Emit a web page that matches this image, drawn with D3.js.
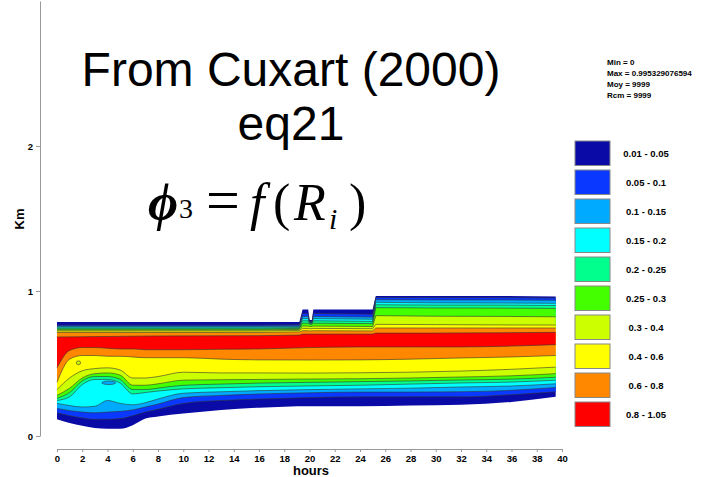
<!DOCTYPE html>
<html>
<head>
<meta charset="utf-8">
<script src="https://cdn.jsdelivr.net/npm/d3@7"></script>
<style>
  body { margin: 0; background: #fff; }
  svg { display: block; }
  text { font-family: "Liberation Sans", Arial, sans-serif; }
</style>
</head>
<body>
<svg id="chart"></svg>
<script>
// legend classes (value ranges) and their colours
const classLabels = ["0.01 - 0.05", "0.05 - 0.1", "0.1 - 0.15", "0.15 - 0.2", "0.2 - 0.25",
                     "0.25 - 0.3", "0.3 - 0.4", "0.4 - 0.6", "0.6 - 0.8", "0.8 - 1.05"];
const classColors = ["#0a0aa6", "#0a38ff", "#00aaff", "#00ffff", "#00ff8c",
                     "#44ff00", "#ccff00", "#ffff00", "#ff8800", "#ff0000"];

const statLines = ["Min = 0", "Max = 0.995329076594", "Moy = 9999", "Rcm = 9999"];

const hourTicks = d3.range(0, 41, 2);
const kmTicks = [0, 1, 2];

// heights (km) where the field crosses each level on its way up (lower side)
const lowerHours = [0, 1, 2, 3, 4, 5, 6, 7, 8, 10, 13, 16, 20, 24, 28, 32, 36, 39.5];
const lowerEdges = [
  [0.115, 0.09, 0.07, 0.055, 0.05, 0.05, 0.075, 0.12, 0.135, 0.155, 0.18, 0.195, 0.205, 0.205, 0.21, 0.215, 0.235, 0.27],
  [0.16, 0.14, 0.125, 0.115, 0.115, 0.12, 0.14, 0.165, 0.185, 0.225, 0.245, 0.255, 0.265, 0.27, 0.27, 0.27, 0.285, 0.305],
  [0.19, 0.175, 0.165, 0.16, 0.165, 0.17, 0.18, 0.2, 0.22, 0.265, 0.28, 0.29, 0.298, 0.303, 0.303, 0.305, 0.315, 0.335],
  [0.225, 0.21, 0.2, 0.205, 0.245, 0.225, 0.215, 0.23, 0.255, 0.295, 0.305, 0.313, 0.32, 0.325, 0.33, 0.338, 0.345, 0.36],
  [0.245, 0.27, 0.355, 0.39, 0.39, 0.365, 0.29, 0.3, 0.31, 0.325, 0.333, 0.34, 0.345, 0.35, 0.358, 0.366, 0.372, 0.385],
  [0.26, 0.3, 0.38, 0.41, 0.41, 0.39, 0.32, 0.32, 0.33, 0.35, 0.358, 0.365, 0.37, 0.375, 0.38, 0.386, 0.392, 0.405],
  [0.28, 0.33, 0.4, 0.43, 0.435, 0.42, 0.35, 0.35, 0.36, 0.385, 0.388, 0.39, 0.393, 0.395, 0.4, 0.407, 0.415, 0.43],
  [0.32, 0.4, 0.45, 0.465, 0.47, 0.455, 0.4, 0.4, 0.41, 0.44, 0.435, 0.435, 0.434, 0.436, 0.44, 0.448, 0.46, 0.475],
  [0.37, 0.53, 0.555, 0.555, 0.55, 0.55, 0.545, 0.54, 0.54, 0.54, 0.53, 0.525, 0.524, 0.525, 0.53, 0.538, 0.545, 0.555],
  [0.47, 0.59, 0.61, 0.61, 0.605, 0.6, 0.6, 0.595, 0.595, 0.595, 0.598, 0.6, 0.61, 0.614, 0.614, 0.614, 0.62, 0.63]
];

// heights (km) where the field crosses each level on its way down (upper side)
const upperHours = [0, 8, 16, 19.2, 19.45, 19.9, 20.0, 20.2, 20.3, 25.0, 25.25, 30, 35, 39.5];
const upperEdges = [
  [0.786, 0.786, 0.786, 0.786, 0.872, 0.872, 0.8, 0.8, 0.872, 0.872, 0.966, 0.966, 0.966, 0.962],
  [0.765, 0.765, 0.765, 0.768, 0.845, 0.845, 0.79, 0.79, 0.845, 0.84, 0.955, 0.955, 0.955, 0.952],
  [0.758, 0.758, 0.758, 0.76, 0.825, 0.825, 0.785, 0.785, 0.825, 0.82, 0.94, 0.938, 0.938, 0.936],
  [0.752, 0.752, 0.752, 0.755, 0.81, 0.81, 0.78, 0.78, 0.81, 0.805, 0.922, 0.918, 0.917, 0.915],
  [0.745, 0.745, 0.745, 0.748, 0.795, 0.795, 0.776, 0.776, 0.795, 0.79, 0.905, 0.903, 0.903, 0.9],
  [0.738, 0.738, 0.738, 0.742, 0.778, 0.778, 0.77, 0.77, 0.778, 0.775, 0.885, 0.883, 0.882, 0.88],
  [0.731, 0.731, 0.731, 0.735, 0.758, 0.758, 0.755, 0.755, 0.758, 0.755, 0.83, 0.826, 0.825, 0.822],
  [0.724, 0.724, 0.724, 0.728, 0.742, 0.742, 0.74, 0.74, 0.742, 0.74, 0.77, 0.768, 0.766, 0.765],
  [0.714, 0.714, 0.714, 0.718, 0.726, 0.726, 0.725, 0.725, 0.726, 0.725, 0.745, 0.745, 0.745, 0.745],
  [0.683, 0.69, 0.692, 0.696, 0.703, 0.703, 0.703, 0.703, 0.703, 0.703, 0.71, 0.71, 0.712, 0.715]
];

// small closed contours inside the field: centre hour, centre km, half width (h), half height (km), class
const pocketHour = [4.1, 1.7];
const pocketKm = [0.367, 0.505];
const pocketHalfH = [0.55, 0.17];
const pocketHalfKm = [0.012, 0.013];
const pocketClass = [2, 6];

const width = 712, height = 477;

const svg = d3.select("#chart")
  .attr("width", width)
  .attr("height", height);

const x = d3.scaleLinear().domain([0, 40]).range([57, 562]);
const y = d3.scaleLinear().domain([0, 3]).range([436, 1]);

const lowerLine = d3.line().x(d => x(d[0])).y(d => y(d[1])).curve(d3.curveMonotoneX);
const upperLine = d3.line().x(d => x(d[0])).y(d => y(d[1]));

function lowerPts(k) { return lowerHours.map((h, i) => [h, lowerEdges[k][i]]); }
function upperPts(k) { return upperHours.map((h, i) => [h, upperEdges[k][i]]); }

// filled classes, painted from the outermost level inward
const field = svg.append("g");
classColors.forEach((c, k) => {
  const path = lowerLine(lowerPts(k)) + upperLine(upperPts(k).reverse()).replace(/^M/, "L") + "Z";
  field.append("path").attr("d", path).attr("fill", c);
});

// contour lines
const lines = svg.append("g")
  .attr("fill", "none")
  .attr("stroke", "#333")
  .attr("stroke-opacity", 0.8)
  .attr("stroke-width", 0.75);
for (let k = 1; k < 10; k++) {
  lines.append("path").attr("d", lowerLine(lowerPts(k)));
  lines.append("path").attr("d", upperLine(upperPts(k)));
}

// pockets
pocketHour.forEach((h, i) => {
  svg.append("ellipse")
    .attr("cx", x(h))
    .attr("cy", y(pocketKm[i]))
    .attr("rx", x(h + pocketHalfH[i]) - x(h))
    .attr("ry", y(0) - y(pocketHalfKm[i]))
    .attr("fill", classColors[pocketClass[i]])
    .attr("stroke", "#333")
    .attr("stroke-opacity", 0.8)
    .attr("stroke-width", 0.75);
});

// axes
const xAxis = svg.append("g")
  .attr("transform", "translate(0,449)")
  .call(d3.axisBottom(x).tickValues(hourTicks).tickSize(3).tickSizeOuter(0));
const yAxis = svg.append("g")
  .attr("transform", "translate(40,0)")
  .call(d3.axisLeft(y).tickValues(kmTicks).tickFormat(d3.format("d")).tickSize(4).tickSizeOuter(0));
[xAxis, yAxis].forEach(a => {
  a.select(".domain").attr("stroke", "#999");
  a.selectAll(".tick line").attr("stroke", "#999");
  a.selectAll(".tick text")
    .attr("fill", "#000")
    .style("font-family", "'Liberation Sans', Arial, sans-serif")
    .style("font-weight", "bold")
    .style("font-size", "9.5px");
});

svg.append("text")
  .attr("x", 311).attr("y", 475)
  .attr("text-anchor", "middle")
  .style("font-weight", "bold").style("font-size", "13px")
  .text("hours");

svg.append("text")
  .attr("transform", "translate(24,219) rotate(-90)")
  .attr("text-anchor", "middle")
  .style("font-weight", "bold").style("font-size", "13px")
  .text("Km");

// title
svg.append("text")
  .attr("x", 291).attr("y", 86)
  .attr("text-anchor", "middle")
  .style("font-size", "48px")
  .text("From Cuxart (2000)");
svg.append("text")
  .attr("x", 291).attr("y", 140)
  .attr("text-anchor", "middle")
  .style("font-size", "48px")
  .text("eq21");

// formula  phi_3 = f(R_i)
const eq = svg.append("text")
  .attr("y", 220)
  .style("font-family", "'Liberation Serif', 'Times New Roman', serif")
  .style("font-size", "52px")
  .style("font-style", "italic");
eq.append("tspan").attr("x", 148).style("font-weight", "bold").text("\u03D5");
eq.append("tspan").attr("x", 179).attr("y", 218).style("font-size", "28px").style("font-style", "normal").text("3");
eq.append("tspan").attr("x", 206).attr("y", 220).style("font-style", "normal").style("font-size", "60px").text("=");
eq.append("tspan").attr("x", 250).text("f");
eq.append("tspan").attr("x", 273).style("font-style", "normal").text("(");
eq.append("tspan").attr("x", 294).text("R");
eq.append("tspan").attr("x", 329).attr("y", 229).style("font-size", "30px").text("i");
eq.append("tspan").attr("x", 349).attr("y", 220).style("font-style", "normal").text(")");

// stats block
svg.append("g").selectAll("text")
  .data(statLines)
  .enter()
  .append("text")
  .attr("x", 607)
  .attr("y", (d, i) => 65 + i * 11)
  .style("font-weight", "bold")
  .style("font-size", "8px")
  .text(d => d);

// legend
const legend = svg.append("g");
const legendRows = legend.selectAll("g")
  .data(classLabels)
  .enter()
  .append("g")
  .attr("transform", (d, i) => `translate(575, ${141 + i * 29})`);
legendRows.append("rect")
  .attr("width", 35)
  .attr("height", 24.5)
  .attr("fill", (d, i) => classColors[i])
  .attr("stroke", "#888")
  .attr("stroke-width", 1);
legendRows.append("text")
  .attr("x", 71)
  .attr("y", 12.5)
  .attr("dy", "0.35em")
  .attr("text-anchor", "middle")
  .style("font-weight", "bold")
  .style("font-size", "9.5px")
  .text(d => d);
</script>
</body>
</html>
